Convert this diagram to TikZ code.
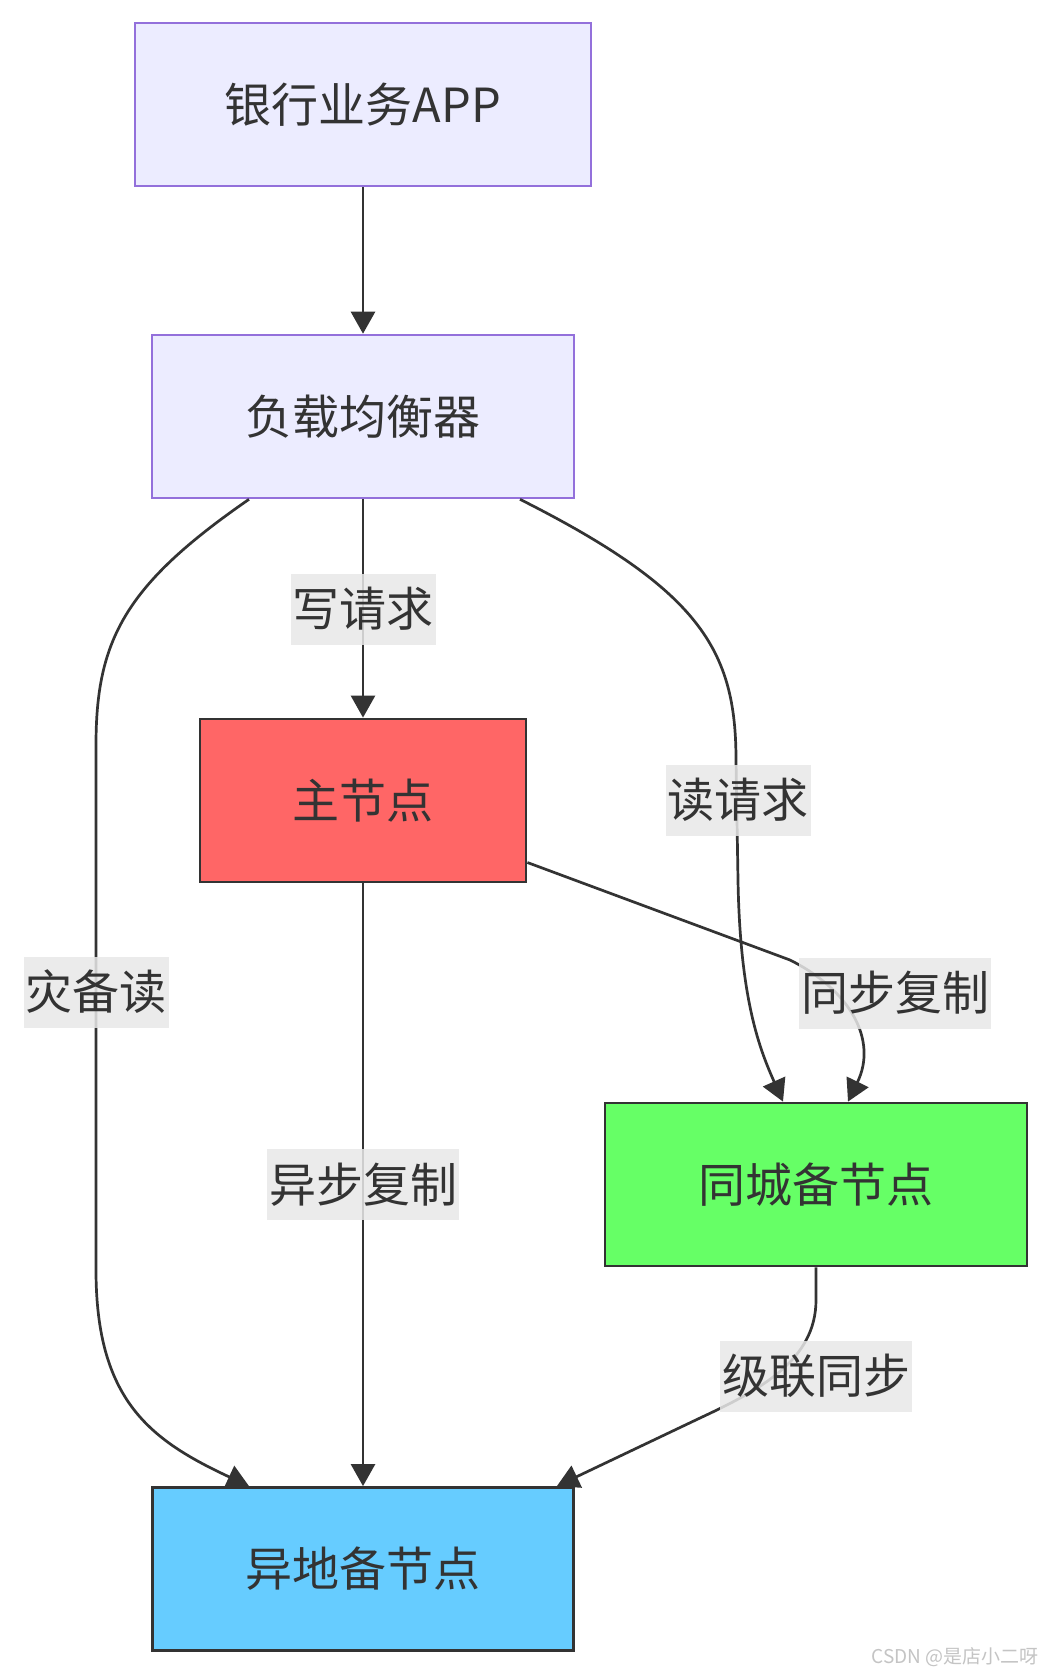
\documentclass[tikz,border=0pt]{standalone}
\usepackage{fontspec}
\setmainfont{Noto Sans CJK SC}
\usetikzlibrary{arrows.meta}
\newcommand{\bh}{163pt}
\definecolor{lav}{HTML}{ECECFF}
\definecolor{lavline}{HTML}{9370DB}
\definecolor{txt}{HTML}{333333}
\definecolor{lblbg}{HTML}{E8E8E8}
\definecolor{redbox}{HTML}{FF6666}
\definecolor{greenbox}{HTML}{66FF66}
\definecolor{bluebox}{HTML}{66CCFF}
\definecolor{wm}{HTML}{C4C4C4}

\begin{document}
\begin{tikzpicture}[x=1pt,y=-1pt,
    rect/.style={draw=txt, rectangle, minimum height=\bh, inner sep=0pt, line width=2.8pt, text=txt, font=\fontsize{47}{56}\selectfont},
    soft/.style={rect, draw=lavline, fill=lav, line width=2.6pt},
    lbl/.style={rectangle, fill=lblbg, fill opacity=0.85, text opacity=1, text=txt, inner xsep=2pt, inner ysep=0pt, minimum height=71pt, font=\fontsize{47}{56}\selectfont},
    edge/.style={draw=txt, line width=2.7pt, -{Triangle[length=22pt,width=24pt]}}]
    \path[fill=white, use as bounding box] (0,0) rectangle (1050,1674);

    % Boxes
    \node[soft, minimum width=456pt] (rect-app) at (363,104.5) {银行业务APP};
    \node[soft, minimum width=422pt] (rect-lb) at (363,416.5) {负载均衡器};
    \node[rect, fill=redbox, minimum width=326pt] (rect-main) at (363,800.5) {主节点};
    \node[rect, fill=greenbox, minimum width=422pt] (rect-city) at (816,1184.5) {同城备节点};
    \node[rect, fill=bluebox, minimum width=421pt] (rect-remote) at (363,1569) {异地备节点};

    % Connectors
    \draw[edge] (rect-app) -- (rect-lb);
    \draw[edge] (rect-lb) -- (rect-main);
    \draw[edge] (rect-main) -- (rect-remote);
    \draw[edge] ([xshift=-114pt]rect-lb.south) .. controls (125,585) and (96,640) .. (96,745)
        -- (96,1270) .. controls (96,1400) and (150,1440) .. ([xshift=-114pt]rect-remote.north);
    \draw[edge] ([xshift=157pt]rect-lb.south) .. controls (700,590) and (736,650) .. (736,760)
        -- (738,880) .. controls (740,1000) and (760,1050) .. ([xshift=-33pt]rect-city.north);
    \draw[edge] ([yshift=-62pt]rect-main.east) -- (790,960) .. controls (850,990) and (878,1040) .. ([xshift=32pt]rect-city.north);
    \draw[edge] (rect-city.south) -- (816,1300) .. controls (816,1360) and (760,1390) .. (700,1418)
        -- ([xshift=-18pt]rect-remote.north east);

    % Labels
    \node[lbl] (lbl-write) at (363,609) {写请求};
    \node[lbl] (lbl-read) at (738,800) {读请求};
    \node[lbl] (lbl-dr) at (96,992) {灾备读};
    \node[lbl] (lbl-sync) at (895,993) {同步复制};
    \node[lbl] (lbl-async) at (363,1184.5) {异步复制};
    \node[lbl] (lbl-cascade) at (816,1376) {级联同步};

    \node[text=wm, font=\fontsize{19}{22}\selectfont, inner sep=0pt] (watermark) at (955,1657) {CSDN @是店小二呀};
\end{tikzpicture}
\end{document}
